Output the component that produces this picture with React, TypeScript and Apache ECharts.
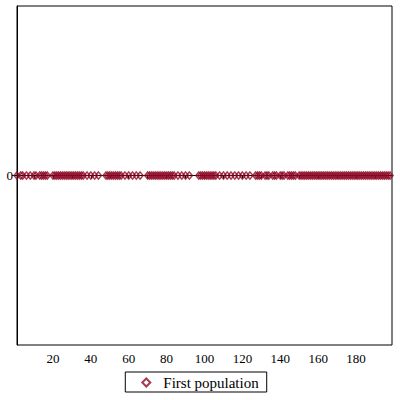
import React, { useEffect, useRef } from "react";
import * as echarts from "echarts";

const seriesName = "First population";
const xValues: number[] = [
  1, 3, 4, 6, 8, 10, 11, 13, 14, 15, 16, 17,
  20, 21, 22, 23, 24, 25, 26, 27, 28, 29, 30, 31, 32, 33, 34, 35, 36,
  38, 40, 42, 44,
  48, 49, 50, 51, 52, 53, 54, 55, 56,
  58, 60, 62, 64, 66,
  70, 71, 72, 73, 74, 75, 76, 77, 78, 79, 80, 81, 82, 83, 84,
  86, 88, 90, 92,
  97, 98, 99, 100, 101, 102, 103, 104, 105, 106,
  108, 110, 112, 114, 116, 118, 120, 122, 124,
  127, 128, 129, 130, 132, 133, 134, 136, 137, 138, 140, 141, 142, 144, 145, 146, 147, 148,
  150, 151, 152, 153, 154, 155, 156, 157, 158, 159, 160, 161, 162, 163, 164, 165, 166, 167,
  168, 169, 170, 171, 172, 173, 174, 175, 176, 177, 178, 179, 180, 181, 182, 183, 184, 185,
  186, 187, 188, 189, 190, 191, 192, 193, 194, 195, 196, 197, 198,
];
const yValues: number[] = xValues.map(() => 0);
const xTickValues: number[] = [10, 20, 30, 40, 50, 60, 70, 80, 90, 100, 110, 120, 130, 140, 150, 160, 170, 180, 190];
const xLabelValues: number[] = [20, 40, 60, 80, 100, 120, 140, 160, 180];
const yLabelValues: number[] = [0];

const FONT = "Liberation Serif, serif";
const RED = "#8e0a26";

export default function App() {
  const ref = useRef<HTMLDivElement>(null);
  useEffect(() => {
    if (!ref.current) return;
    const chart = echarts.init(ref.current, undefined, { renderer: "svg" });
    chart.setOption({
      animation: false,
      backgroundColor: "#fff",
      textStyle: { fontFamily: FONT },
      grid: {
        left: 17,
        right: 8,
        top: 6,
        bottom: 55,
        show: true,
        borderColor: "#000",
        borderWidth: 1,
        backgroundColor: "#fff",
      },
      legend: {
        bottom: 8,
        left: "center",
        data: [seriesName],
        itemWidth: 8,
        itemHeight: 8,
        itemGap: 8,
        borderColor: "#000",
        borderWidth: 1,
        borderRadius: 0,
        padding: [3, 8, 2, 16],
        textStyle: { fontFamily: FONT, fontSize: 15, color: "#000", padding: [0, 0, 0, 8] },
      },
      xAxis: {
        type: "value",
        min: 1,
        max: 199,
        splitLine: { show: false },
        axisLine: { show: true, lineStyle: { color: "#000", width: 1 } },
        axisTick: {
          show: true,
          length: 3,
          customValues: xTickValues,
          lineStyle: { color: "#000" },
        },
        axisLabel: {
          customValues: xLabelValues,
          fontFamily: FONT,
          fontSize: 13,
          color: "#000",
          margin: 7,
        },
      },
      yAxis: {
        type: "value",
        min: -1,
        max: 1,
        splitLine: { show: false },
        axisLine: { show: true, lineStyle: { color: "#000", width: 1 } },
        axisTick: {
          show: true,
          length: 5,
          customValues: yLabelValues,
          lineStyle: { color: "#000" },
        },
        axisLabel: {
          customValues: yLabelValues,
          fontFamily: FONT,
          fontSize: 13,
          color: "#000",
          margin: 4,
        },
      },
      series: [
        {
          name: seriesName,
          type: "scatter",
          symbol: "diamond",
          symbolSize: [6, 7],
          data: xValues.map((x, i) => [x, yValues[i]]),
          itemStyle: {
            color: "rgba(255,255,255,0)",
            borderColor: RED,
            borderWidth: 1.5,
          },
        },
      ],
    });
    return () => chart.dispose();
  }, []);
  return <div ref={ref} style={{ width: 400, height: 400, position: "absolute", left: 0, top: 0 }} />;
}
